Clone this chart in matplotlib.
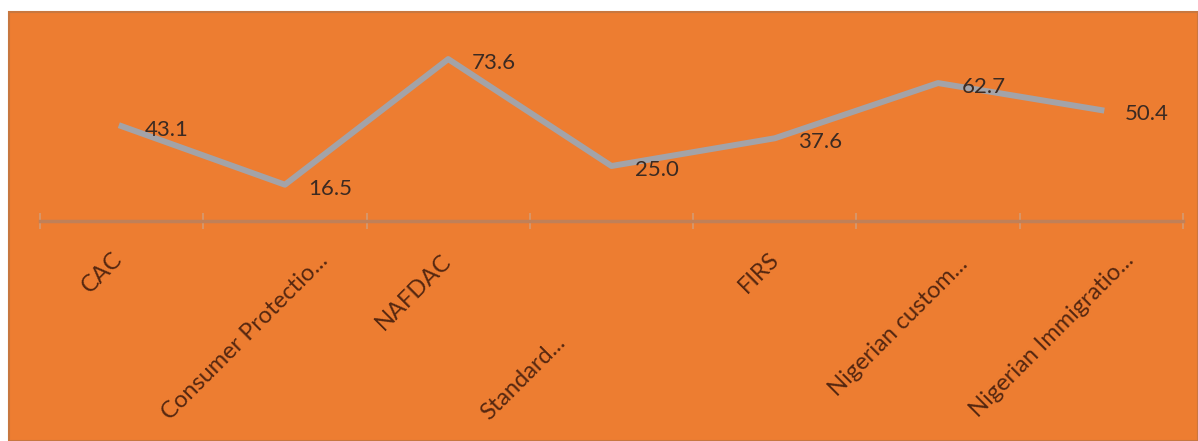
import numpy as np
import matplotlib
matplotlib.use("Agg")
import matplotlib.pyplot as plt
from matplotlib.patches import Rectangle

# data
agencies = ["CAC", "Consumer Protectio...", "NAFDAC", "Standard...",
            "FIRS", "Nigerian custom...", "Nigerian Immigratio..."]
values = [43.1, 16.5, 73.6, 25.0, 37.6, 62.7, 50.4]

# per-label placement of the rotated category labels (pixels from tick / axis)
label_dx = [-3, 40, 0, -49, 1, 26, 29]
label_dy = [35, 36, 37, 118, 35, 40, 36]

W, H = 1198, 441
fig = plt.figure(figsize=(W / 100, H / 100), dpi=100)
fig.patch.set_facecolor("white")

# orange chart area
bg = Rectangle((9 / W, 0), 1 - 9 / W, (H - 12) / H, transform=fig.transFigure,
               facecolor="#ED7D31", edgecolor="#C8773F", linewidth=1.5, zorder=-10)
fig.patches.append(bg)

ax = fig.add_axes([40 / W, (H - 221) / H, (1183 - 40) / W, 198 / H])
ax.set_facecolor("none")
x = np.arange(len(values))
ax.plot(x, values, color="#A3A3A8", linewidth=4.3, zorder=3)

for xi, v in zip(x, values):
    ax.annotate(f"{v:.1f}", xy=(xi, v), xytext=(17, -3), textcoords="offset points",
                ha="left", va="center", fontsize=16, family="Lato",
                color="#3B2A22", zorder=4)

ax.set_xlim(-0.5, len(values) - 0.5)
ax.set_ylim(0, 90)
for s in ["top", "right", "left"]:
    ax.spines[s].set_visible(False)
ax.spines["bottom"].set_color("#C08058")
ax.spines["bottom"].set_linewidth(2.5)
ax.set_yticks([])
ax.set_xticks(np.arange(len(values) + 1) - 0.5)
ax.set_xticklabels([])
ax.tick_params(axis="x", direction="inout", length=12, width=1.2, color="#D49A72")

trans = ax.get_xaxis_transform()
for xi, lab, dx, dy in zip(x, agencies, label_dx, label_dy):
    ax.annotate(lab, xy=(xi, 0), xycoords=trans, xytext=(dx, -dy),
                textcoords="offset pixels", ha="right", va="center",
                rotation=45, rotation_mode="anchor", fontsize=17,
                family="Lato", color="#552710", annotation_clip=False)

fig.savefig("out.png", dpi=100, facecolor="white")
